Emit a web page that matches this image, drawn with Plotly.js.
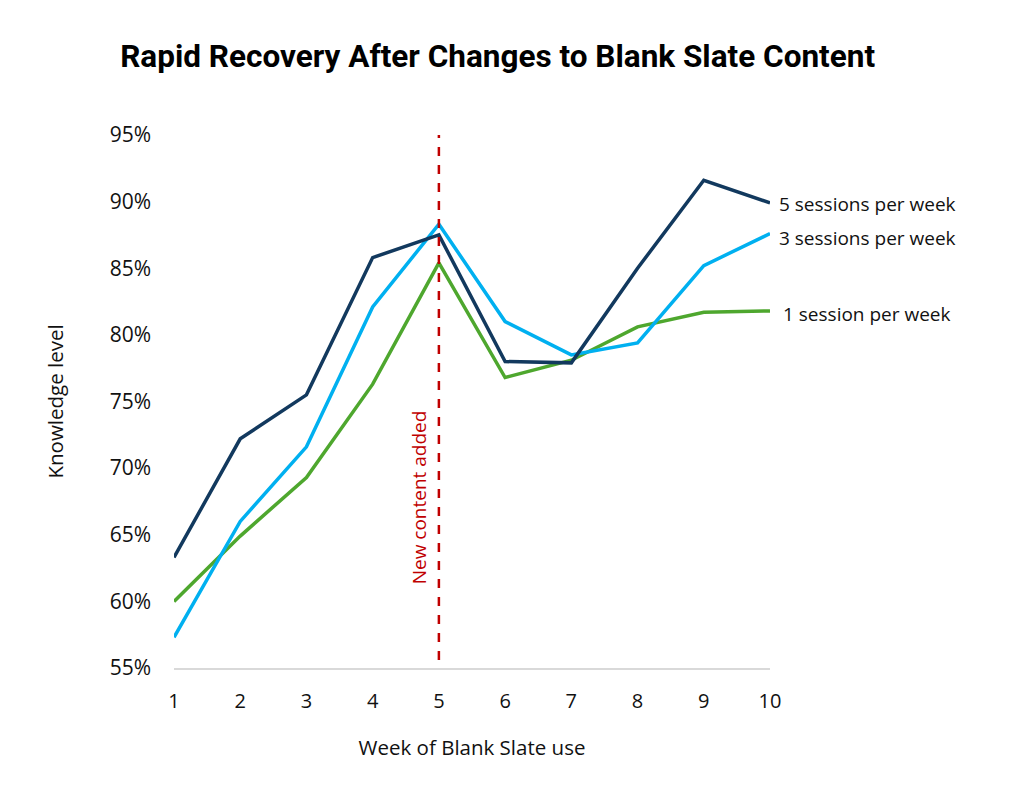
<!DOCTYPE html>
<html>
<head>
<meta charset="utf-8">
<script src="https://cdn.plot.ly/plotly-3.0.1.min.js"></script>
<style>
  html, body { margin: 0; padding: 0; background: #fff; }
  #chartBox { width: 1024px; height: 796px; }
</style>
</head>
<body>
<div id="chartBox"></div>
<script>
// weeks and knowledge level (%) per series
const weeks = [1, 2, 3, 4, 5, 6, 7, 8, 9, 10];
const fiveSessions = [63.3, 72.2, 75.5, 85.8, 87.5, 78.0, 77.9, 85.0, 91.6, 89.9];
const threeSessions = [57.3, 66.0, 71.6, 82.1, 88.3, 81.0, 78.5, 79.4, 85.2, 87.6];
const oneSession = [60.0, 64.9, 69.3, 76.3, 85.4, 76.8, 78.1, 80.6, 81.7, 81.8];
const seriesNames = ["5 sessions per week", "3 sessions per week", "1 session per week"];
const yTicks = [55, 60, 65, 70, 75, 80, 85, 90, 95];
const yTickText = ["55%", "60%", "65%", "70%", "75%", "80%", "85%", "90%", "95%"];
const markerWeek = 5;

const font = "Open Sans, Noto Sans, sans-serif";
const colors = ["#12395e", "#00b0f0", "#4ea72e"];
const allSeries = [fiveSessions, threeSessions, oneSession];

// green under, then light blue, navy on top
const order = [2, 1, 0];
const data = order.map(i => ({
    x: weeks,
    y: allSeries[i],
    mode: "lines",
    line: { color: colors[i], width: 3.5 },
    name: seriesNames[i],
    hoverinfo: "skip"
}));

const labelShift = [[7, -1], [7, -4], [11, -3]];
const annotations = allSeries.map((s, i) => ({
    x: weeks[weeks.length - 1],
    y: s[s.length - 1],
    xref: "x", yref: "y",
    text: seriesNames[i],
    showarrow: false,
    xanchor: "left",
    yanchor: "middle",
    xshift: labelShift[i][0],
    yshift: labelShift[i][1],
    font: { family: font, size: 19, color: "#111" }
}));

annotations.push({
    x: markerWeek, y: 67.8,
    xref: "x", yref: "y",
    text: "New content added",
    textangle: -90,
    showarrow: false,
    xshift: -19,
    font: { family: font, size: 19, color: "#c00000" }
});

const layout = {
    width: 1024,
    height: 796,
    paper_bgcolor: "#fff",
    plot_bgcolor: "#fff",
    margin: { l: 174, r: 254, t: 135, b: 128 },
    showlegend: false,
    title: {
        text: "<b>Rapid Recovery After Changes to Blank Slate Content</b>",
        font: { family: "Roboto, Liberation Sans, sans-serif", size: 31.5, color: "#000" },
        x: 0.486, xanchor: "center",
        y: 0.93, yanchor: "middle"
    },
    xaxis: {
        range: [1, 10],
        tickvals: weeks,
        showgrid: false,
        zeroline: false,
        showline: true,
        linecolor: "#d9d9d9",
        linewidth: 1.5,
        ticks: "",
        ticklabelstandoff: 14,
        tickfont: { family: font, size: 20, color: "#111" },
        title: { text: "Week of Blank Slate use", standoff: 28, font: { family: font, size: 20.5, color: "#111" } }
    },
    yaxis: {
        range: [55, 95],
        tickvals: yTicks,
        ticktext: yTickText,
        showgrid: false,
        zeroline: false,
        showline: false,
        ticks: "",
        ticklabelstandoff: 22,
        tickfont: { family: font, size: 21, color: "#111" },
        title: { text: "Knowledge level", standoff: 40, font: { family: font, size: 20.5, color: "#111" } }
    },
    shapes: [{
        type: "line",
        xref: "x", yref: "y",
        x0: markerWeek, x1: markerWeek,
        y0: 55.6, y1: 95,
        line: { color: "#c00000", width: 2.5, dash: "dash" }
    }],
    annotations: annotations
};

Plotly.newPlot("chartBox", data, layout, { displayModeBar: false, staticPlot: true });
</script>
</body>
</html>
